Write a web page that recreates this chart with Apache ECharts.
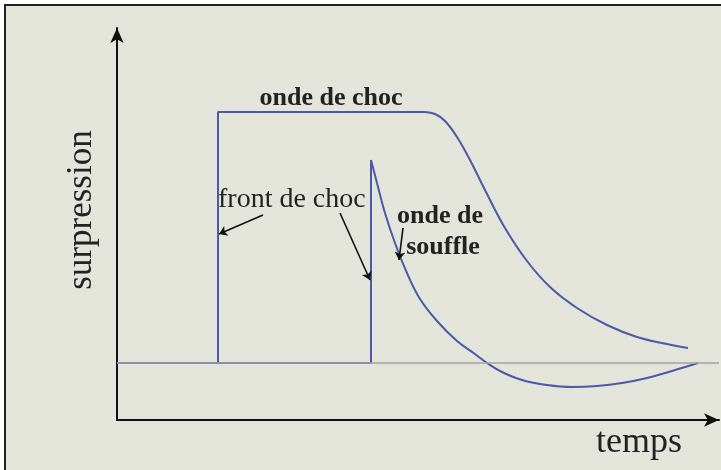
<!DOCTYPE html>
<html>
<head>
<meta charset="utf-8">
<script src="https://cdn.jsdelivr.net/npm/echarts/dist/echarts.min.js"></script>
<style>
  html, body { margin: 0; padding: 0; background: #fff; }
  #chart { width: 721px; height: 470px; }
</style>
</head>
<body>
<div id="chart"></div>
<script>
// temps (t) / surpression (p), arbitrary units
// the first 4 points are the step (baseline, front, plateau), the rest is the decay
let chocT = [0, 101, 101, 308, 318, 328, 340, 353, 368, 388, 410, 433, 460, 490, 520, 550, 571];
let chocP = [0, 0, 251, 251, 249, 242, 226, 203, 173, 135, 102, 76, 55, 38, 26, 19, 15];

let souffleT = [0, 254, 254, 260, 268, 278, 290, 303, 320, 340, 358, 370, 385, 405, 430, 455, 480, 505, 530, 555, 581];
let souffleP = [0, 0, 203, 180, 150, 120, 90, 64, 42, 22, 9, 0, -9, -17, -22, -24, -23, -20, -15, -8, 0];

// annotation arrows: [fromT, fromP, toT, toP]
let arrows = [
  [146, 148, 102, 129],
  [223, 150, 253, 83],
  [286, 135, 282, 103]
];

let blue = "#4b59a7";
let serif = "'Liberation Serif', 'Times New Roman', serif";

function pairs(xs, ys) {
  return xs.map((x, i) => [x, ys[i]]);
}

function waveSeries(name, xs, ys, stepEnd) {
  let pts = pairs(xs, ys);
  return [
    {
      name: name,
      type: "line",
      data: pts.slice(0, stepEnd + 1),
      showSymbol: false,
      lineStyle: { color: blue, width: 2 },
      z: 3,
    },
    {
      name: name,
      type: "line",
      data: pts.slice(stepEnd),
      smooth: 0.4,
      showSymbol: false,
      lineStyle: { color: blue, width: 2 },
      z: 3,
    },
  ];
}

let mychart = echarts.init(document.getElementById("chart"));
mychart.setOption({
  animation: false,
  backgroundColor: "#e4e5da",
  grid: {
    left: 117,
    right: 2,
    top: 28,
    bottom: 50,
  },
  xAxis: {
    type: "value",
    min: 0,
    max: 602,
    axisLine: {
      onZero: false,
      symbol: ["none", "arrow"],
      symbolSize: [10, 15],
      lineStyle: { color: "#111", width: 2 },
    },
    axisTick: { show: false },
    axisLabel: { show: false },
    splitLine: { show: false },
  },
  yAxis: {
    type: "value",
    min: -57,
    max: 335,
    axisLine: {
      show: true,
      onZero: false,
      symbol: ["none", "arrow"],
      symbolSize: [10, 15],
      lineStyle: { color: "#111", width: 2 },
    },
    axisTick: { show: false },
    axisLabel: { show: false },
    splitLine: { show: false },
  },
  series: [
    {
      name: "zero",
      type: "line",
      data: [],
      z: 1,
      markLine: {
        silent: true,
        symbol: ["none", "none"],
        label: { show: false },
        lineStyle: { color: "#a3a3a3", width: 1.5, type: "solid" },
        data: [{ yAxis: 0 }],
      },
    },
    ...waveSeries("onde de souffle", souffleT, souffleP, 2),
    ...waveSeries("onde de choc", chocT, chocP, 3),
    {
      name: "fleches",
      type: "line",
      data: [],
      z: 4,
      markLine: {
        silent: true,
        symbol: ["none", "arrow"],
        symbolSize: 8,
        label: { show: false },
        lineStyle: { color: "#111", width: 1.6, type: "solid" },
        data: arrows.map((a) => [{ coord: [a[0], a[1]] }, { coord: [a[2], a[3]] }]),
      },
    },
  ],
  graphic: [
    // cadre
    { type: "rect", shape: { x: 0, y: 0, width: 4, height: 470 }, style: { fill: "#fff" } },
    { type: "rect", shape: { x: 0, y: 0, width: 721, height: 4 }, style: { fill: "#fff" } },
    { type: "rect", shape: { x: 4, y: 4, width: 2, height: 466 }, style: { fill: "#222" } },
    { type: "rect", shape: { x: 4, y: 4, width: 717, height: 2 }, style: { fill: "#222" } },
    {
      type: "text", x: 331, y: 98,
      style: { text: "onde de choc", font: "bold 26px " + serif, fill: "#222", align: "center", verticalAlign: "middle" },
    },
    {
      type: "text", x: 218, y: 200,
      style: { text: "front de choc", font: "28px " + serif, fill: "#222", align: "left", verticalAlign: "middle" },
    },
    {
      type: "text", x: 440, y: 216,
      style: { text: "onde de", font: "bold 26px " + serif, fill: "#222", align: "center", verticalAlign: "middle" },
    },
    {
      type: "text", x: 443, y: 247,
      style: { text: "souffle", font: "bold 26px " + serif, fill: "#222", align: "center", verticalAlign: "middle" },
    },
    {
      type: "text", x: 639, y: 443,
      style: { text: "temps", font: "36px " + serif, fill: "#222", align: "center", verticalAlign: "middle" },
    },
    {
      type: "text", x: 82, y: 210, rotation: Math.PI / 2,
      style: { text: "surpression", font: "35px " + serif, fill: "#222", align: "center", verticalAlign: "middle" },
    },
  ],
});
</script>
</body>
</html>
